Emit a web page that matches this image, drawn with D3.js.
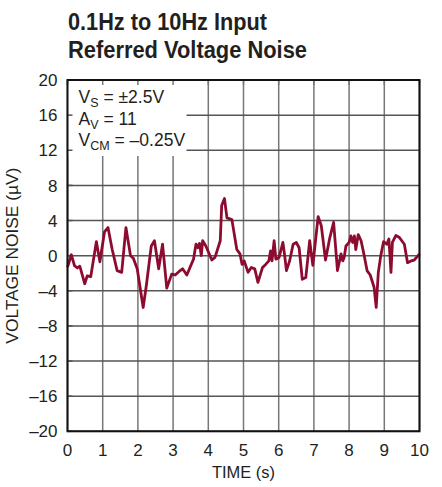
<!DOCTYPE html>
<html>
<head>
<meta charset="utf-8">
<script src="https://cdn.jsdelivr.net/npm/d3@7"></script>
<style>
  body { margin: 0; background: #fff; }
  svg { display: block; }
  text { font-family: "Liberation Sans Narrow", "Liberation Sans", Arial, sans-serif; fill: #231f20; }
</style>
</head>
<body>
<svg width="442" height="487"></svg>
<script>
// time (s) and noise (uV)
const timeS = [
	0.00, 0.11, 0.20, 0.28, 0.35, 0.49, 0.56, 0.66, 0.82, 0.92,
	1.05, 1.15, 1.27, 1.41, 1.54, 1.66, 1.79, 1.87, 1.98, 2.15,
	2.24, 2.38, 2.47, 2.59, 2.70, 2.82, 2.96, 3.06, 3.17, 3.27,
	3.39, 3.58, 3.65, 3.70, 3.75, 3.80, 3.84, 3.93, 4.10, 4.19,
	4.34, 4.38, 4.46, 4.53, 4.67, 4.81, 4.90, 4.96, 5.02, 5.13,
	5.22, 5.32, 5.41, 5.54, 5.63, 5.72, 5.77, 5.81, 5.87, 5.92,
	6.01, 6.12, 6.17, 6.22, 6.31, 6.41, 6.50, 6.58, 6.67, 6.77,
	6.88, 6.97, 7.12, 7.21, 7.33, 7.45, 7.56, 7.67, 7.77, 7.82,
	7.86, 7.91, 8.00, 8.05, 8.10, 8.15, 8.19, 8.26, 8.34, 8.43,
	8.51, 8.60, 8.71, 8.77, 8.83, 8.90, 8.98, 9.07, 9.13, 9.19,
	9.23, 9.33, 9.42, 9.57, 9.66, 9.76, 9.85, 9.96, 10.0,
];
const noiseUV = [
	-1.3, 0.1, -1.15, -1.4, -1.2, -3.2, -2.3, -2.4, 1.6, -0.7,
	2.7, 3.2, 0.7, -1.7, -1.9, 3.2, 0.0, -0.3, -1.5, -5.9,
	-3.4, 1.1, 1.7, -1.5, 1.3, -3.7, -2.1, -2.2, -1.8, -1.5,
	-2.2, -0.4, 1.3, 0.9, 1.4, 0.0, 1.7, 1.1, -0.5, -0.2,
	1.7, 5.7, 6.5, 4.3, 4.1, 0.7, 0.2, -1.0, -0.6, -1.9,
	-1.35, -1.5, -3.05, -1.35, -1.0, -0.6, 0.55, -0.6, 1.7, -0.4,
	-0.2, 1.5, 0.0, -1.7, -0.6, 1.3, 1.5, 0.9, -2.7, -2.5,
	1.7, -1.1, 4.45, 3.4, -0.5, 2.0, 3.8, -1.7, 0.2, -0.6,
	-0.2, 1.1, 1.5, 2.25, 1.5, 2.25, 0.7, 2.4, 1.7, 0.0,
	-1.7, -2.2, -3.6, -5.9, -1.9, 0.0, 1.6, 1.3, 1.9, -1.9,
	1.5, 2.3, 2.1, 1.3, -0.8, -0.6, -0.5, 0.0, 0.2,
];
const xTicks = [0, 1, 2, 3, 4, 5, 6, 7, 8, 9, 10];
const yTicks = [-20, -16, -12, -8, -4, 0, 4, 8, 12, 16, 20];
const titleLines = ["0.1Hz to 10Hz Input", "Referred Voltage Noise"];
const titleWidths = [199, 239];

const svg = d3.select("svg");
const margin = { top: 80, right: 22.5, bottom: 55.7, left: 67.5 };
const width = 442 - margin.left - margin.right;
const height = 487 - margin.top - margin.bottom;

const x = d3.scaleLinear().domain([0, 10]).range([0, width]);
const y = d3.scaleLinear().domain([-20, 20]).range([height, 0]);

const minus = (d) => (d < 0 ? "\u2013" + Math.abs(d) : String(d));

// title (condensed look via textLength)
svg.selectAll(".title")
	.data(titleLines)
	.enter()
	.append("text")
	.attr("class", "title")
	.attr("x", 68)
	.attr("y", (d, i) => 30 + i * 28)
	.attr("font-size", 23.5)
	.attr("font-weight", "bold")
	.attr("textLength", (d, i) => titleWidths[i])
	.attr("lengthAdjust", "spacingAndGlyphs")
	.text((d) => d);

const g = svg.append("g").attr("transform", `translate(${margin.left},${margin.top})`);

// grid
g.append("g")
	.selectAll("line")
	.data(xTicks)
	.enter()
	.append("line")
	.attr("x1", (d) => x(d))
	.attr("x2", (d) => x(d))
	.attr("y1", 0)
	.attr("y2", height)
	.attr("stroke", "#777")
	.attr("stroke-width", 1.5);
g.append("g")
	.selectAll("line")
	.data(yTicks)
	.enter()
	.append("line")
	.attr("x1", 0)
	.attr("x2", width)
	.attr("y1", (d) => y(d))
	.attr("y2", (d) => y(d))
	.attr("stroke", "#555")
	.attr("stroke-width", 1.5);

// conditions box hides the grid behind it
g.append("rect")
	.attr("x", 0)
	.attr("y", 0)
	.attr("width", 119)
	.attr("height", 76)
	.attr("fill", "#fff");

// inner tick marks on left and top
g.append("g")
	.selectAll("line")
	.data(yTicks)
	.enter()
	.append("line")
	.attr("x1", 0)
	.attr("x2", 5)
	.attr("y1", (d) => y(d))
	.attr("y2", (d) => y(d))
	.attr("stroke", "#555")
	.attr("stroke-width", 1.5);
g.append("g")
	.selectAll("line")
	.data(xTicks)
	.enter()
	.append("line")
	.attr("x1", (d) => x(d))
	.attr("x2", (d) => x(d))
	.attr("y1", 0)
	.attr("y2", 5)
	.attr("stroke", "#777")
	.attr("stroke-width", 1.5);

// conditions text
const cond = g.append("g").attr("font-size", 17.5);
const addCond = (row, main, sub, rest) => {
	const t = cond.append("text").attr("x", 11).attr("y", 23 + row * 21.7);
	t.append("tspan").text(main);
	t.append("tspan").attr("font-size", 12.5).attr("dy", 4).text(sub);
	t.append("tspan").attr("dy", -4).text(rest);
};
addCond(0, "V", "S", " = \u00b12.5V");
addCond(1, "A", "V", " = 11");
addCond(2, "V", "CM", " = \u20130.25V");

// noise trace
const data = timeS.map((t, i) => ({ t, v: noiseUV[i] }));
g.append("path")
	.datum(data)
	.attr("fill", "none")
	.attr("stroke", "#8e0b30")
	.attr("stroke-width", 2.8)
	.attr("stroke-linejoin", "round")
	.attr("d", d3.line().x((d) => x(d.t)).y((d) => y(d.v)));

// frame
g.append("rect")
	.attr("width", width)
	.attr("height", height)
	.attr("fill", "none")
	.attr("stroke", "#111")
	.attr("stroke-width", 2);

// axis labels
g.append("g")
	.selectAll("text")
	.data(yTicks)
	.enter()
	.append("text")
	.attr("x", -10)
	.attr("y", (d) => y(d))
	.attr("dy", "0.36em")
	.attr("text-anchor", "end")
	.attr("font-size", 17)
	.text(minus);
g.append("g")
	.selectAll("text")
	.data(xTicks)
	.enter()
	.append("text")
	.attr("x", (d) => x(d))
	.attr("y", height + 25)
	.attr("text-anchor", "middle")
	.attr("font-size", 17)
	.text((d) => d);

g.append("text")
	.attr("x", width / 2)
	.attr("y", height + 47)
	.attr("text-anchor", "middle")
	.attr("font-size", 17)
	.attr("textLength", 63)
	.attr("lengthAdjust", "spacingAndGlyphs")
	.text("TIME (s)");
g.append("text")
	.attr("transform", `translate(${-50},${height / 2}) rotate(-90)`)
	.attr("text-anchor", "middle")
	.attr("font-size", 17)
	.attr("textLength", 176)
	.attr("lengthAdjust", "spacingAndGlyphs")
	.text("VOLTAGE NOISE (\u00b5V)");
</script>
</body>
</html>
